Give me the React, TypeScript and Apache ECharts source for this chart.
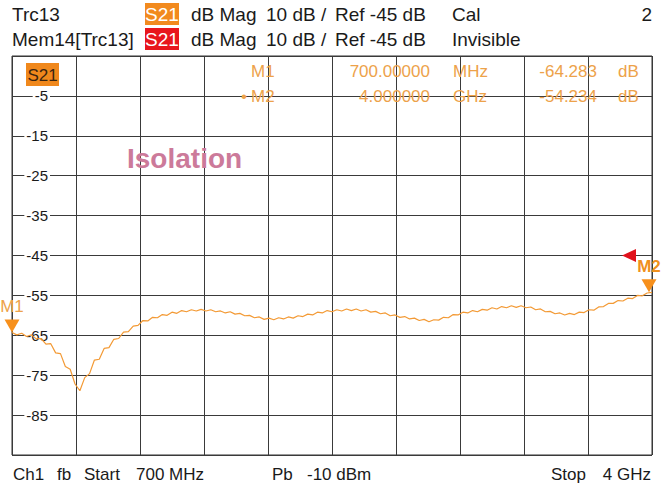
import React, { useEffect, useRef } from "react";
import * as echarts from "echarts";

// ---- sweep / trace data ----
const START_GHZ = 0.7;
const STOP_GHZ = 4.0;
const STEP_GHZ = 0.025;
const TRACE_DB = [
  -64.28, -64.9, -64.5, -65.3, -64.9, -65.9, -65.8, -67.2, -67.1, -69.4,
  -69.6, -72.8, -73.5, -77.2, -78.9, -75.6, -74.6, -71.2, -71.0, -68.3,
  -68.1, -66.0, -65.8, -64.2, -64.1, -62.7, -62.5, -61.3, -61.4, -60.5,
  -60.6, -59.8, -60.0, -59.2, -59.5, -58.8, -59.1, -58.6, -58.9, -58.5,
  -58.9, -58.6, -59.1, -58.9, -59.4, -59.1, -59.7, -59.5, -60.1, -60.0,
  -60.6, -60.4, -61.0, -60.7, -61.1, -60.6, -60.9, -60.4, -60.7, -60.1,
  -60.3, -59.7, -59.9, -59.2, -59.4, -58.8, -59.1, -58.6, -58.9, -58.4,
  -58.8, -58.4, -58.9, -58.6, -59.2, -59.0, -59.6, -59.4, -60.1, -59.9,
  -60.5, -60.3, -60.9, -60.7, -61.3, -61.0, -61.6, -61.1, -61.2, -60.5,
  -60.6, -59.8, -59.9, -59.2, -59.4, -58.8, -59.1, -58.5, -58.7, -58.1,
  -58.4, -57.8, -58.1, -57.6, -58.0, -57.6, -58.1, -57.9, -58.6, -58.4,
  -59.1, -59.0, -59.6, -59.4, -59.9, -59.5, -59.8, -59.2, -59.3, -58.6,
  -58.7, -57.9, -57.8, -57.0, -57.0, -56.3, -56.4, -55.7, -55.8, -55.0,
  -55.1, -54.4, -54.23,
];
const FREQ_GHZ = TRACE_DB.map((_, i) => +(START_GHZ + i * STEP_GHZ).toFixed(4));

// ---- axis ----
const Y_MIN = -95;
const Y_MAX = 5;
const DIVISIONS = 10;
const Y_TICK_LABELS = ["", "-85", "-75", "-65", "-55", "-45", "-35", "-25", "-15", "-5", ""];
const REF_DB = -45;

// ---- markers ----
const MARKER_NAMES = ["M1", "M2"];
const MARKER_PREFIX = ["", "\u2022"];
const MARKER_FREQ_GHZ = [0.7, 4.0];
const MARKER_FREQ_TEXT = ["700.00000", "4.000000"];
const MARKER_UNIT = ["MHz", "GHz"];
const MARKER_DB = [-64.283, -54.234];

// ---- header / footer texts ----
const HEADER_ROW1 = ["Trc13", "dB Mag", "10 dB /", "Ref -45 dB", "Cal", "2"];
const HEADER_ROW2 = ["Mem14[Trc13]", "dB Mag", "10 dB /", "Ref -45 dB", "Invisible"];
const FOOTER = ["Ch1", "fb", "Start", "700 MHz", "Pb", "-10 dBm", "Stop", "4 GHz"];
const TRACE_NAME = "S21";
const TITLE = "Isolation";

const FONT = '"Liberation Sans", Arial, sans-serif';
const ORANGE = "#f39a35";
const MARK_TXT = "#eda24a";

export default function App() {
  const ref = useRef<HTMLDivElement>(null);
  useEffect(() => {
    if (!ref.current) return;
    const chart = echarts.init(ref.current, undefined, { renderer: "svg" });

    const txt = (x: number, y: number, text: string, opts: any = {}) => ({
      type: "text",
      x,
      y,
      z: 100,
      style: {
        text,
        fill: opts.fill || "#1a1a1a",
        font: opts.font || `19px ${FONT}`,
        textAlign: opts.align || "left",
        textVerticalAlign: "middle",
      },
    });

    const graphic: any[] = [
      // header row 1
      txt(12, 14, HEADER_ROW1[0]),
      { type: "rect", shape: { x: 145, y: 3, width: 34, height: 22 }, style: { fill: "#f28a1e" }, z: 99 },
      txt(162, 14, TRACE_NAME, { fill: "#ffffff", align: "center" }),
      txt(191, 14, HEADER_ROW1[1]),
      txt(266, 14, HEADER_ROW1[2]),
      txt(335, 14, HEADER_ROW1[3]),
      txt(452, 14, HEADER_ROW1[4]),
      txt(652, 14, HEADER_ROW1[5], { align: "right" }),
      // header row 2
      txt(12, 39, HEADER_ROW2[0]),
      { type: "rect", shape: { x: 145, y: 28, width: 34, height: 22 }, style: { fill: "#e8161c" }, z: 99 },
      txt(162, 39, TRACE_NAME, { fill: "#ffffff", align: "center" }),
      txt(191, 39, HEADER_ROW2[1]),
      txt(266, 39, HEADER_ROW2[2]),
      txt(335, 39, HEADER_ROW2[3]),
      txt(452, 39, HEADER_ROW2[4]),
      // footer
      txt(13, 474, FOOTER[0], { font: `17px ${FONT}` }),
      txt(57, 474, FOOTER[1], { font: `17px ${FONT}` }),
      txt(84, 474, FOOTER[2], { font: `17px ${FONT}` }),
      txt(136, 474, FOOTER[3], { font: `17px ${FONT}` }),
      txt(272, 474, FOOTER[4], { font: `17px ${FONT}` }),
      txt(307, 474, FOOTER[5], { font: `17px ${FONT}` }),
      txt(551, 474, FOOTER[6], { font: `17px ${FONT}` }),
      txt(651, 474, FOOTER[7], { font: `17px ${FONT}`, align: "right" }),
      // trace tag inside the diagram
      { type: "rect", shape: { x: 26, y: 63, width: 33, height: 23 }, style: { fill: "#f0881c" }, z: 99 },
      txt(42.5, 75, TRACE_NAME, { fill: "#3a2410", align: "center", font: `17px ${FONT}` }),
      // title
      txt(127, 158, TITLE, { fill: "#cc7a9a", font: `bold 28px ${FONT}` }),
    ];

    const rowsY = [71, 96];
    MARKER_NAMES.forEach((name, i) => {
      const y = rowsY[i];
      const f = `17px ${FONT}`;
      if (MARKER_PREFIX[i]) graphic.push(txt(244, y, MARKER_PREFIX[i], { fill: MARK_TXT, font: f, align: "center" }));
      graphic.push(txt(251, y, name, { fill: MARK_TXT, font: f }));
      graphic.push(txt(430, y, MARKER_FREQ_TEXT[i], { fill: MARK_TXT, font: f, align: "right" }));
      graphic.push(txt(453, y, MARKER_UNIT[i], { fill: MARK_TXT, font: f }));
      graphic.push(txt(597, y, MARKER_DB[i].toFixed(3), { fill: MARK_TXT, font: f, align: "right" }));
      graphic.push(txt(618, y, "dB", { fill: MARK_TXT, font: f }));
    });

    const gridLine = { show: true, lineStyle: { color: "#3a3a3a", width: 1 } };

    const markData: any[] = MARKER_NAMES.map((name, i) => ({
      name,
      coord: [MARKER_FREQ_GHZ[i], MARKER_DB[i]],
      symbol: "path://M0,0 L15,0 L7.5,13 Z",
      symbolSize: [15, 13],
      symbolOffset: [i === 1 ? -3 : 0, -6.5],
      itemStyle: { color: "#f7901c" },
      label: {
        show: true,
        formatter: name,
        position: "top",
        distance: 4,
        color: i === 1 ? "#f0901c" : MARK_TXT,
        fontSize: 17,
        fontWeight: i === 1 ? "bold" : "normal",
        fontFamily: FONT,
      },
    }));
    markData.push({
      name: "ref",
      coord: [STOP_GHZ, REF_DB],
      symbol: "path://M14,0 L14,13 L0,6.5 Z",
      symbolSize: [14, 13],
      symbolOffset: [-23, 0],
      itemStyle: { color: "#e0121c" },
      label: { show: false },
    });

    chart.setOption({
      animation: false,
      backgroundColor: "#ffffff",
      graphic,
      grid: {
        left: 12,
        top: 56,
        width: 640,
        height: 399,
        show: true,
        borderColor: "#333333",
        borderWidth: 1,
        backgroundColor: "#ffffff",
      },
      xAxis: [
        { type: "value", min: START_GHZ, max: STOP_GHZ, show: false, position: "top" },
        {
          type: "value",
          min: 0,
          max: DIVISIONS,
          interval: 1,
          position: "bottom",
          axisLine: { show: false },
          axisTick: { show: false },
          axisLabel: { show: false },
          splitLine: gridLine,
        },
      ],
      yAxis: [
        { type: "value", min: Y_MIN, max: Y_MAX, show: false, position: "right" },
        {
          type: "value",
          min: 0,
          max: DIVISIONS,
          interval: 1,
          position: "left",
          axisLine: { show: false },
          axisTick: { show: false },
          splitLine: gridLine,
          axisLabel: {
            inside: true,
            align: "right",
            margin: 38,
            formatter: (v: number) => Y_TICK_LABELS[Math.round(v)] ?? "",
            color: "#1a1a1a",
            fontSize: 15,
            fontFamily: FONT,
            backgroundColor: "#ffffff",
            padding: [0, 2],
          },
        },
      ],
      series: [
        {
          type: "line",
          xAxisIndex: 0,
          yAxisIndex: 0,
          data: FREQ_GHZ.map((f, i) => [f, TRACE_DB[i]]),
          showSymbol: false,
          symbol: "none",
          lineStyle: { color: ORANGE, width: 1.2 },
          z: 5,
          markPoint: { data: markData, z: 10 },
        },
      ],
    });
    return () => chart.dispose();
  }, []);

  return (
    <div
      ref={ref}
      style={{ position: "fixed", left: 0, top: 0, width: 664, height: 488, background: "#fff" }}
    />
  );
}
